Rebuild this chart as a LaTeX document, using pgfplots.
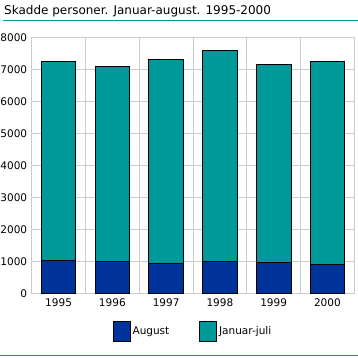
\documentclass[border=0pt]{standalone}
\usepackage{pgfplots}
\pgfplotsset{compat=1.18}
\usepackage{fontspec}
\setmainfont{DejaVu Sans}
\definecolor{dblue}{RGB}{0,51,153}
\definecolor{teal2}{RGB}{0,153,153}
\definecolor{gridg}{RGB}{204,204,204}
\begin{document}
\begin{tikzpicture}[x=1pt,y=1pt]
\useasboundingbox (0,0) rectangle (358,357);
\draw[teal2, line width=1pt] (3,336) -- (358,336);
\draw[teal2, line width=1pt] (0,2) -- (358,2);
\node[anchor=base west, font=\fontsize{12}{14}\selectfont, inner sep=0pt] at (4,342) {Skadde personer. Januar-august. 1995-2000};
\begin{axis}[
  at={(31.7pt,63.7pt)}, anchor=south west,
  width=322.6pt, height=256pt, scale only axis,
  ybar stacked, bar width=34.5pt,
  xmin=-0.5, xmax=5.5, ymin=0, ymax=8000,
  xtick={0,...,5}, xticklabels={1995,1996,1997,1998,1999,2000},
  minor xtick={-0.5,0.5,...,5.5},
  ytick={0,1000,...,8000},
  xminorgrids=true, ymajorgrids=true,
  grid style={gridg, line width=0.8pt},
  minor grid style={gridg, line width=0.8pt},
  axis line style={gridg, line width=0.8pt},
  major tick length=0pt, minor tick length=0pt,
  tick style={draw=none},
  /pgf/number format/assume math mode=true,
  /pgf/number format/1000 sep={},
  tick label style={font=\fontsize{10.5}{12}\selectfont, text=black},
  yticklabel style={xshift=-1pt},
  xticklabel style={yshift=-2pt},
  legend style={at={(0.5,-0.1)}, anchor=north, draw=none, legend columns=2,
    font=\fontsize{10.5}{12}\selectfont,
    /tikz/every even column/.append style={column sep=28pt}},
  legend image code/.code={\draw[#1, draw=black, line width=0.8pt] (0pt,-10pt) rectangle (17pt,10pt);},
]
\addplot[fill=dblue, draw=black, line width=0.8pt] coordinates {(0,1030) (1,1000) (2,940) (3,1000) (4,970) (5,910)};
\addplot[fill=teal2, draw=black, line width=0.8pt] coordinates {(0,6220) (1,6094) (2,6372) (3,6594) (4,6186) (5,6340)};
\legend{August,Januar-juli}
\end{axis}
\end{tikzpicture}
\end{document}
